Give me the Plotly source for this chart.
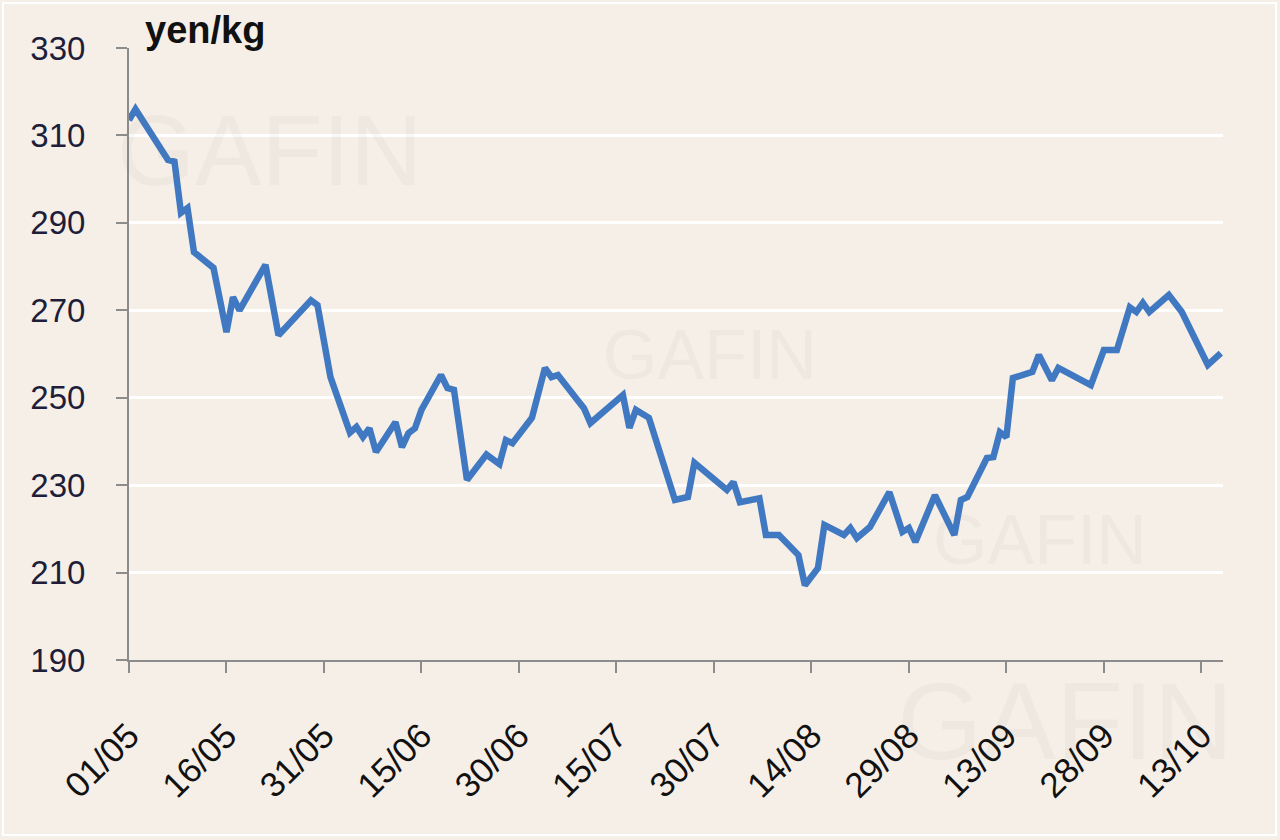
import plotly.graph_objects as go

# ---- data ----
dates = [
    "2012-05-01", "2012-05-02", "2012-05-07", "2012-05-08", "2012-05-09", "2012-05-10",
    "2012-05-11", "2012-05-14", "2012-05-16", "2012-05-17", "2012-05-18", "2012-05-22",
    "2012-05-24", "2012-05-29", "2012-05-30", "2012-06-01", "2012-06-04", "2012-06-05",
    "2012-06-06", "2012-06-07", "2012-06-08", "2012-06-11", "2012-06-12", "2012-06-13",
    "2012-06-14", "2012-06-15", "2012-06-18", "2012-06-19", "2012-06-20", "2012-06-22",
    "2012-06-25", "2012-06-27", "2012-06-28", "2012-06-29", "2012-07-02", "2012-07-04",
    "2012-07-05", "2012-07-06", "2012-07-09", "2012-07-10", "2012-07-11", "2012-07-16",
    "2012-07-17", "2012-07-18", "2012-07-20", "2012-07-24", "2012-07-26", "2012-07-27",
    "2012-08-01", "2012-08-02", "2012-08-03", "2012-08-06", "2012-08-07", "2012-08-09",
    "2012-08-12", "2012-08-13", "2012-08-15", "2012-08-16", "2012-08-19", "2012-08-20",
    "2012-08-21", "2012-08-23", "2012-08-26", "2012-08-28", "2012-08-29", "2012-08-30",
    "2012-09-02", "2012-09-05", "2012-09-06", "2012-09-07", "2012-09-10", "2012-09-11",
    "2012-09-12", "2012-09-13", "2012-09-14", "2012-09-17", "2012-09-18", "2012-09-20",
    "2012-09-21", "2012-09-26", "2012-09-28", "2012-09-30", "2012-10-02", "2012-10-03",
    "2012-10-04", "2012-10-05", "2012-10-08", "2012-10-10", "2012-10-14", "2012-10-16",
]
prices = [
    313.5, 316.0, 304.4, 304.0, 292.3, 293.4,
    283.3, 279.7, 265.0, 273.0, 270.0, 280.4,
    264.3, 272.3, 271.2, 254.7, 242.0, 243.3,
    241.0, 243.0, 237.6, 244.4, 238.7, 241.9,
    243.0, 247.2, 255.2, 252.2, 251.8, 231.2,
    237.0, 234.8, 240.3, 239.6, 245.4, 256.8,
    254.7, 255.2, 249.5, 247.6, 244.2, 250.6,
    243.1, 247.2, 245.4, 226.6, 227.3, 235.1,
    228.9, 230.7, 226.1, 227.0, 218.6, 218.6,
    214.0, 207.1, 211.0, 220.9, 218.6, 220.2,
    217.9, 220.4, 228.4, 219.3, 220.2, 217.0,
    227.7, 218.6, 226.6, 227.3, 236.2, 236.4,
    242.1, 241.0, 254.5, 255.9, 259.8, 254.0,
    256.8, 252.9, 260.9, 260.9, 270.7, 269.6,
    271.7, 269.6, 273.5, 269.6, 257.5, 260.2,
]
unit_label = "yen/kg"
y_ticks = [190, 210, 230, 250, 270, 290, 310, 330]
watermark = "GAFIN"

BG = "#F5EFE8"
LINE = "#4079C2"
AXIS = "#8C8C8C"

fig = go.Figure()
fig.add_trace(go.Scatter(
    x=dates, y=prices, mode="lines",
    line=dict(color=LINE, width=6.5),
    hoverinfo="x+y", showlegend=False,
))

# plot area in pixels: left 129, right 1223, top 48, bottom 660
W, H = 1094.0, 612.0
def px(xp):
    return (xp - 129) / W
def py(yp):
    return (660 - yp) / H

# faint watermarks
for (cx, cy, size) in [(270, 150, 100), (710, 355, 70), (1040, 540, 70), (1065, 720, 110)]:
    fig.add_annotation(
        x=px(cx), y=py(cy), xref="paper", yref="paper", text=watermark,
        showarrow=False, font=dict(family="Liberation Sans", size=size, color="rgba(120,110,100,0.05)"),
        xanchor="center", yanchor="middle",
    )

fig.add_annotation(
    x=px(143), y=py(30), xref="paper", yref="paper", text="<b>%s</b>" % unit_label,
    showarrow=False, xanchor="left", yanchor="middle",
    font=dict(family="Liberation Sans, Arial", size=38, color="#111111"),
)

# outer frame
fig.add_shape(type="rect", xref="paper", yref="paper",
              x0=px(3), x1=px(1276), y0=py(835), y1=py(3),
              line=dict(color="#FFFFFF", width=2), layer="below")

fig.update_layout(
    width=1280, height=840,
    margin=dict(l=129, r=57, t=48, b=180),
    paper_bgcolor=BG, plot_bgcolor=BG,
    font=dict(family="Liberation Sans, Arial", color="#111111"),
    xaxis=dict(
        type="date", automargin=False,
        range=["2012-05-01", "2012-10-16 08:00"],
        tick0="2012-05-01", dtick=15 * 86400000, tickformat="%d/%m",
        tickangle=-45, showgrid=False, zeroline=False,
        showline=True, linecolor=AXIS, linewidth=2,
        ticks="outside", ticklen=11, tickwidth=2, tickcolor=AXIS,
        tickfont=dict(size=35, color="#111111"),
        ticklabelstandoff=28,
    ),
    yaxis=dict(
        range=[190, 330], tickvals=y_ticks, automargin=False,
        showgrid=True, gridcolor="#FFFFFF", gridwidth=2.5, zeroline=False,
        showline=True, linecolor=AXIS, linewidth=2,
        ticks="outside", ticklen=11, tickwidth=2, tickcolor=AXIS,
        tickfont=dict(size=33, color="#1E1E3A"),
        ticklabelstandoff=24,
    ),
)

fig.write_html("out.html", config={"displayModeBar": False},
               post_script="document.body.style.margin='0px';")
